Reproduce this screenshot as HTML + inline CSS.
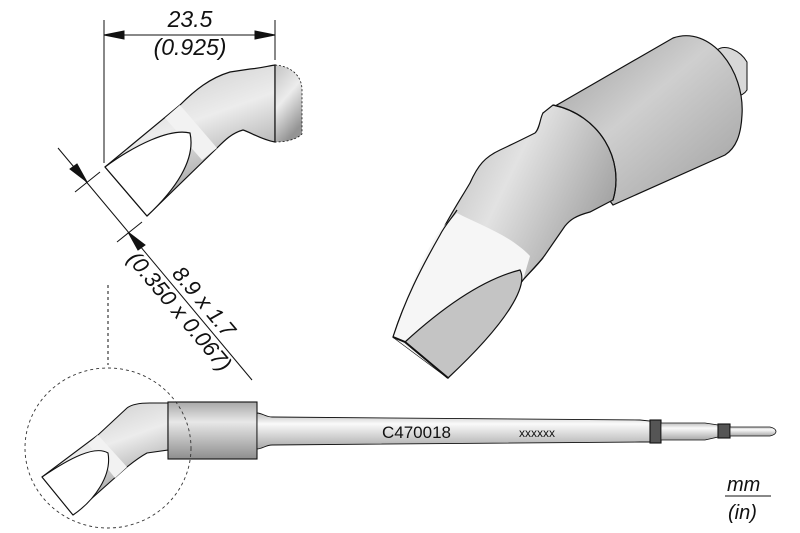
<!DOCTYPE html>
<html><head><meta charset="utf-8"><style>
html,body{margin:0;padding:0;background:#fff;width:800px;height:533px;overflow:hidden}
svg{display:block}
text{font-family:"Liberation Sans",sans-serif;fill:#111}
</style></head><body>
<svg width="800" height="533" viewBox="0 0 800 533" xmlns="http://www.w3.org/2000/svg">
<defs>
<linearGradient id="gcyl" x1="0" y1="0" x2="1" y2="1">
<stop offset="0" stop-color="#9a9a9a"/><stop offset="0.45" stop-color="#cfcfcf"/><stop offset="0.8" stop-color="#b0b0b0"/><stop offset="1" stop-color="#7e7e7e"/></linearGradient>
<linearGradient id="gneck" x1="0" y1="0" x2="1" y2="0.6">
<stop offset="0" stop-color="#a0a0a0"/><stop offset="0.5" stop-color="#e2e2e2"/><stop offset="1" stop-color="#909090"/></linearGradient>
<linearGradient id="gv" x1="0" y1="0" x2="0" y2="1">
<stop offset="0" stop-color="#a8a8a8"/><stop offset="0.35" stop-color="#e8e8e8"/><stop offset="1" stop-color="#8e8e8e"/></linearGradient>
<linearGradient id="gshaft" x1="0" y1="0" x2="0" y2="1">
<stop offset="0" stop-color="#bdbdbd"/><stop offset="0.3" stop-color="#fafafa"/><stop offset="1" stop-color="#a8a8a8"/></linearGradient>
<linearGradient id="gsmall" x1="0" y1="0" x2="0.4" y2="1">
<stop offset="0" stop-color="#c4c4c4"/><stop offset="0.5" stop-color="#ececec"/><stop offset="1" stop-color="#949494"/></linearGradient>
</defs>

<!-- top-left small tip -->
<g stroke="#111" stroke-width="1.2">
<path d="M105,167 L180,105 C195,90 210,78 230,72 L250,69 C262,68 268,66 275,65 L275,142 C262,140 250,132 243,130 C232,133 225,140 217,148 L147,216 Z" fill="url(#gsmall)"/>
<path d="M180,105 L165,118 L202,160 L217,148 Z" fill="#f2f2f2" stroke="none"/>
<path d="M105,167 C135,145 170,128 190,133 C196,160 175,190 147,216" fill="#fff"/>
<path d="M105,167 L147,216" fill="none"/>
<path d="M275,65 C290,66 302,75 302,90 L302,134 C296,140 285,142 275,142 Z" fill="url(#gsmall)" stroke="none"/>
<path d="M275,65 L275,142" fill="none"/>
<path d="M275,65 C290,66 302,75 302,90 L302,134 C296,140 285,142 275,142" fill="none" stroke-dasharray="2,2" stroke-width="0.8"/>
</g>
<!-- dim 23.5 -->
<g stroke="#111" stroke-width="1" fill="#111">
<line x1="104" y1="20" x2="104" y2="163"/>
<line x1="275" y1="20" x2="275" y2="60"/>
<line x1="104" y1="35" x2="275" y2="35"/>
<path d="M104,35 L124,31 L124,39 Z"/><path d="M275,35 L255,31 L255,39 Z"/>
<line x1="58" y1="148" x2="252" y2="380"/>
<line x1="75" y1="192" x2="100" y2="172"/>
<line x1="117" y1="242" x2="142" y2="222"/>
<path d="M87,182 L70,169 L77,164 Z"/>
<path d="M128,232 L145,245 L138,250 Z"/>
<line x1="108" y1="285" x2="108" y2="365" stroke-dasharray="3,3"/>
</g>
<text x="190" y="27" font-size="23" font-style="italic" text-anchor="middle">23.5</text>
<text x="190" y="55" font-size="23" font-style="italic" text-anchor="middle">(0.925)</text>
<g transform="translate(128,232) rotate(50)">
<text x="60" y="-6" font-size="22" font-style="italic">8.9 x 1.7</text>
<text x="20" y="19" font-size="22" font-style="italic">(0.350 x 0.067)</text>
</g>

<!-- big 3D tip -->
<g stroke="#111" stroke-width="1.2">
<path d="M717,50 C725,44 740,50 747,62 L747,90 C742,98 730,98 720,92 Z" fill="#d8d8d8" stroke-width="1"/>
<path d="M543,113 L673,38 C710,25 745,70 742,115 C741,135 736,148 725,155 L613,205 Z" fill="url(#gcyl)"/>
<path d="M553,105 C600,115 625,160 613,200 L590,212 C575,216 570,220 565,226 L545,255 C538,265 530,272 523,280 L448,378 L393,337 C405,300 420,270 440,235 C450,215 460,200 470,183 C478,165 485,157 500,150 C515,143 525,138 535,133 C540,128 540,118 543,113 Z" fill="url(#gneck)"/>
<path d="M457,213 C480,225 510,235 530,256 L523,280 L448,378 L393,337 C405,300 420,260 440,230 Z" fill="#f6f6f6" stroke="none"/>
<path d="M393,337 C405,300 420,270 440,235 C445,225 452,218 457,210" fill="none"/>
<path d="M543,258 L523,280 L448,378" fill="none"/>
<path d="M405,342 C440,310 480,280 520,270 C528,285 510,320 448,378 Z" fill="#c4c4c4"/>
<path d="M393,337 L405,342 L448,378" fill="none" stroke-width="2"/>
<path d="M553,105 C600,115 625,160 613,200" fill="none"/>
</g>

<!-- bottom full tool -->
<g stroke="#111" stroke-width="1.1">
<path d="M42,477 L98,435 L127,408 C132,404 140,403 150,403 L168,403 L168,450 L147,453 C138,458 132,463 127,467 L73,515 Z" fill="url(#gsmall)"/>
<path d="M98,435 L88,444 L115,478 L127,467 Z" fill="#f2f2f2" stroke="none"/>
<path d="M42,477 C70,458 95,445 108,453 C112,475 95,500 73,515" fill="#fff"/>
<path d="M42,477 L73,515" fill="none"/>
<rect x="168" y="402" width="89" height="57" fill="url(#gv)"/>
<path d="M257,413 C262,413 266,417 272,417 L640,420 L650,421 L650,442 L640,442 L272,445 C266,445 262,449 257,449 Z" fill="url(#gshaft)" stroke-width="0.9"/>
<rect x="650" y="420" width="11" height="23" fill="#555"/>
<path d="M661,423 L705,423 L718,425 L718,437 L705,440 L661,440 Z" fill="url(#gshaft)" stroke-width="0.8"/>
<rect x="718" y="424" width="12" height="14" fill="#555"/>
<path d="M730,427 L770,427 C778,429 778,434 770,436 L730,436 Z" fill="url(#gshaft)" stroke-width="0.8"/>
</g>
<ellipse cx="108" cy="448" rx="83" ry="80" fill="none" stroke="#333" stroke-width="0.9" stroke-dasharray="3,3"/>
<text x="382" y="438" font-size="17">C470018</text>
<text x="519" y="437" font-size="12">xxxxxx</text>

<text x="727" y="491" font-size="20" font-style="italic">mm</text>
<line x1="725" y1="496" x2="771" y2="496" stroke="#111" stroke-width="1"/>
<text x="728" y="519" font-size="20" font-style="italic">(in)</text>
</svg>
</body></html>
